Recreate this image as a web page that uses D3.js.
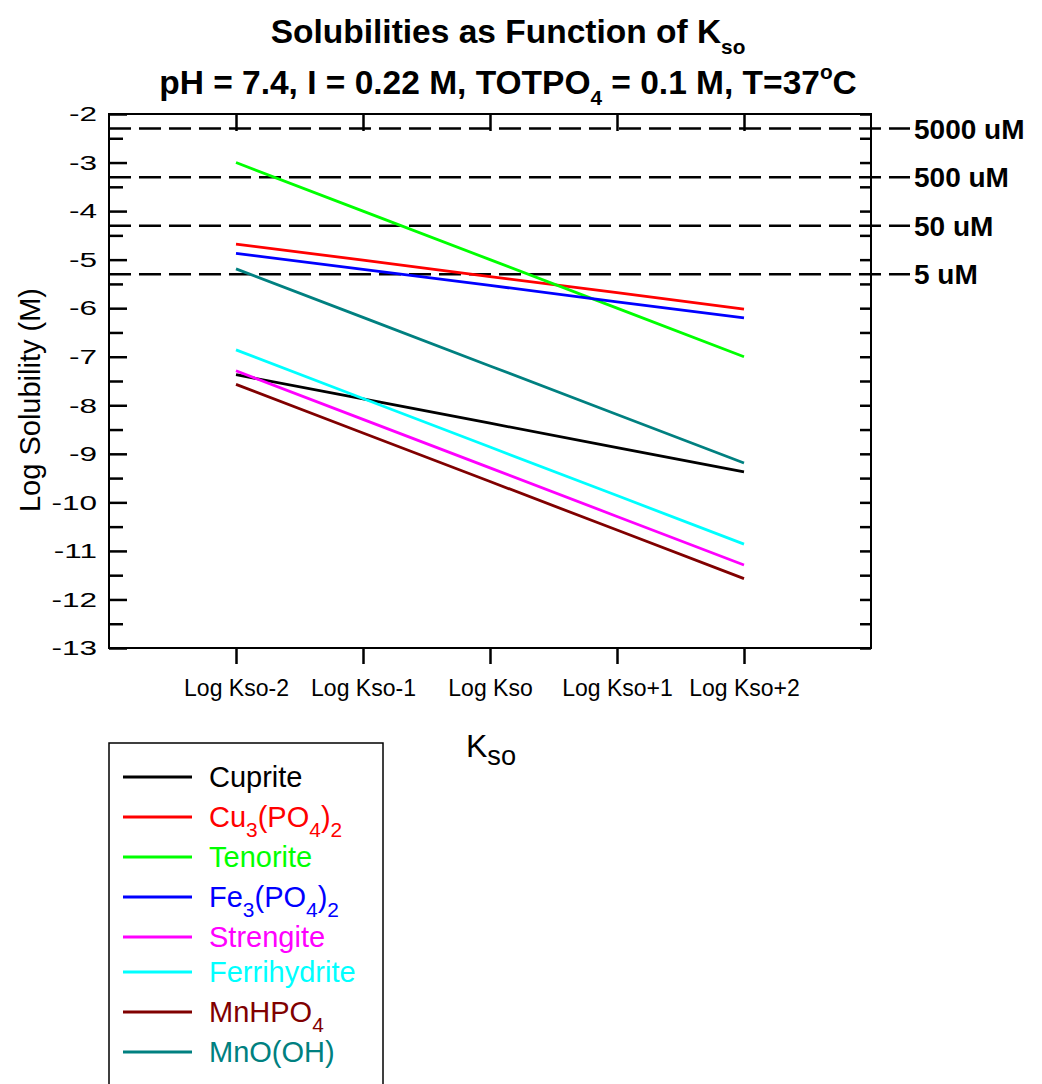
<!DOCTYPE html>
<html><head><meta charset="utf-8">
<script src="https://cdn.jsdelivr.net/npm/d3@7"></script>
<style>
body{margin:0;background:#fff;}
svg{display:block;font-family:"Liberation Sans",Arial,sans-serif;}
</style></head>
<body><svg id="c" width="1042" height="1084"></svg>
<script>
// ---- data ----
const categories = ["Log Kso-2","Log Kso-1","Log Kso","Log Kso+1","Log Kso+2"];
const cuprite      = [-7.37,-7.87,-8.37,-8.87,-9.37];
const cu3po42      = [-4.68,-5.01,-5.35,-5.68,-6.02];
const tenorite     = [-3.00,-4.00,-5.00,-6.00,-7.00];
const fe3po42      = [-4.87,-5.20,-5.53,-5.87,-6.20];
const strengite    = [-7.29,-8.29,-9.29,-10.29,-11.29];
const ferrihydrite = [-6.86,-7.86,-8.86,-9.86,-10.86];
const mnhpo4       = [-7.57,-8.57,-9.57,-10.57,-11.57];
const mnooh        = [-5.19,-6.19,-7.19,-8.19,-9.19];
const seriesLabels = [
  [["Cuprite",""]],
  [["Cu",""],["3","sub"],["(PO",""],["4","sub"],[")",""],["2","sub"]],
  [["Tenorite",""]],
  [["Fe",""],["3","sub"],["(PO",""],["4","sub"],[")",""],["2","sub"]],
  [["Strengite",""]],
  [["Ferrihydrite",""]],
  [["MnHPO",""],["4","sub"]],
  [["MnO(OH)",""]]
];
const seriesValues = [cuprite,cu3po42,tenorite,fe3po42,strengite,ferrihydrite,mnhpo4,mnooh];
const seriesColors = ["#000000","#ff0000","#00ff00","#0000ff","#ff00ff","#00ffff","#800000","#008080"];
const refLevelsUM = [5000,500,50,5];
const refLabels = ["5000 uM","500 uM","50 uM","5 uM"];
const yTickValues = [-13,-12,-11,-10,-9,-8,-7,-6,-5,-4,-3,-2];
const yMinorValues = [-12.5,-11.5,-10.5,-9.5,-8.5,-7.5,-6.5,-5.5,-4.5,-3.5,-2.5];
const titleLine1 = [["Solubilities as Function of K",""],["so","sub"]];
const titleLine2 = [["pH = 7.4, I = 0.22 M, TOTPO",""],["4","sub"],[" = 0.1 M, T=37",""],["o","sup"],["C",""]];
const yTitle = "Log Solubility (M)";
const xTitle = [["K",""],["so","sub"]];

// ---- layout ----
const L=109,R=871,T=114,B=648;
const svg=d3.select("#c");
const x=d3.scaleLinear().domain([-1,5]).range([L,R]);
const y=d3.scaleLinear().domain([-13,-2]).range([B,T]);

function rich(sel, parts, fs, subScale, subShift, supShift){
  let cur=0;
  parts.forEach(([t,k])=>{
    const target = k==="sub"? fs*subShift : k==="sup"? fs*supShift : 0;
    sel.append("tspan").text(t).attr("dy", target-cur).attr("font-size", k? fs*subScale: fs);
    cur=target;
  });
}

// frame
svg.append("rect").attr("x",L).attr("y",T).attr("width",R-L).attr("height",B-T)
  .attr("fill","none").attr("stroke","#000").attr("stroke-width",2);

// left axis
const ySX=1.5;
const gl=svg.append("g").attr("transform",`translate(${L},0)`)
  .call(d3.axisLeft(y).tickValues(yTickValues).tickFormat(d=>String(d)).tickSize(-18).tickPadding(12));
gl.select(".domain").remove();
gl.selectAll(".tick line").attr("stroke-width",2.5);
gl.selectAll(".tick text").attr("font-size",21).attr("font-family","Liberation Sans, Arial").attr("fill","#000")
  .attr("x",-12/ySX).attr("transform",`scale(${ySX},1)`);
const glm=svg.append("g").attr("transform",`translate(${L},0)`)
  .call(d3.axisLeft(y).tickValues(yMinorValues).tickFormat("").tickSize(-14));
glm.select(".domain").remove();
glm.selectAll(".tick line").attr("stroke-width",2.5);

// right axis
[yTickValues,yMinorValues].forEach(v=>{
  const g=svg.append("g").attr("transform",`translate(${R},0)`)
    .call(d3.axisRight(y).tickValues(v).tickFormat("").tickSize(-11));
  g.select(".domain").remove();
  g.selectAll(".tick line").attr("stroke-width",2.5);
});

// top axis
const gt=svg.append("g").attr("transform",`translate(0,${T})`)
  .call(d3.axisTop(x).tickValues(d3.range(categories.length)).tickFormat("").tickSize(-17));
gt.select(".domain").remove();
gt.selectAll(".tick line").attr("stroke-width",2.5);

// bottom axis
const gb=svg.append("g").attr("transform",`translate(0,${B})`)
  .call(d3.axisBottom(x).tickValues(d3.range(categories.length)).tickFormat(i=>categories[i]).tickSize(16).tickPadding(16));
gb.select(".domain").remove();
gb.selectAll(".tick line").attr("stroke-width",2.5);
gb.selectAll(".tick text").attr("font-size",23).attr("font-family","Liberation Sans, Arial").attr("fill","#000");

// reference dashed lines
refLevelsUM.forEach((v,i)=>{
  const yy=y(Math.log10(v*1e-6));
  svg.append("line").attr("x1",L).attr("x2",910).attr("y1",yy).attr("y2",yy)
    .attr("stroke","#000").attr("stroke-width",2.5).attr("stroke-dasharray","22,8");
  svg.append("text").attr("x",914).attr("y",yy).attr("dy","0.36em")
    .attr("font-size",28).attr("font-weight","bold").text(refLabels[i]);
});

// series lines
const line=d3.line().x((d,i)=>x(i)).y(d=>y(d));
seriesValues.forEach((vals,i)=>{
  svg.append("path").attr("d",line(vals)).attr("fill","none")
    .attr("stroke",seriesColors[i]).attr("stroke-width",2.8);
});

// titles
const t1=svg.append("text").attr("x",508).attr("y",43).attr("text-anchor","middle").attr("font-weight","bold");
rich(t1,titleLine1,33.5,0.62,0.32,-0.45);
const t2=svg.append("text").attr("x",508).attr("y",94).attr("text-anchor","middle").attr("font-weight","bold");
rich(t2,titleLine2,33.5,0.62,0.32,-0.45);

svg.append("text").attr("transform","translate(40,400) rotate(-90)").attr("text-anchor","middle")
  .attr("font-size",29).text(yTitle);
const xt=svg.append("text").attr("x",491).attr("y",757).attr("text-anchor","middle");
rich(xt,xTitle,32,0.85,0.25,-0.45);

// legend
svg.append("rect").attr("x",109).attr("y",743).attr("width",274).attr("height",400)
  .attr("fill","#fff").attr("stroke","#000").attr("stroke-width",1.5);
let ly=777;
seriesLabels.forEach((lab,i)=>{
  const hasSub=lab.some(p=>p[1]==="sub");
  if(i>0){
    const prevSub=seriesLabels[i-1].some(p=>p[1]==="sub");
    ly += (prevSub?22.5:17.5)+(hasSub?22.5:17.5);
  }
  svg.append("line").attr("x1",123).attr("x2",192).attr("y1",ly).attr("y2",ly)
    .attr("stroke",seriesColors[i]).attr("stroke-width",2.8);
  const tx=svg.append("text").attr("x",209).attr("y",ly+10).attr("fill",seriesColors[i]);
  rich(tx,lab,29,0.72,0.33,-0.45);
});
</script></body></html>
